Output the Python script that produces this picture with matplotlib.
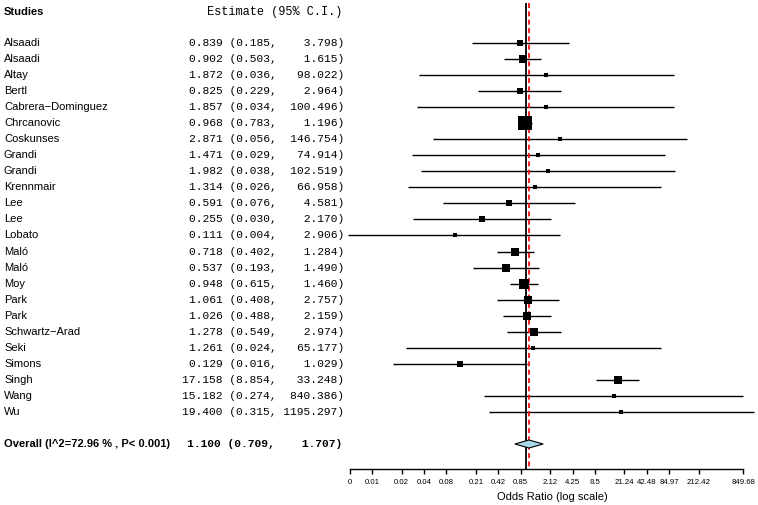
import matplotlib
matplotlib.use("Agg")
import matplotlib.pyplot as plt
from matplotlib.patches import Polygon
from matplotlib.transforms import blended_transform_factory

plt.rcParams['font.family'] = ['Liberation Sans', 'DejaVu Sans']

W, H = 758, 505

studies = ["Alsaadi", "Alsaadi", "Altay", "Bertl", "Cabrera\u2212Dominguez",
           "Chrcanovic", "Coskunses", "Grandi", "Grandi", "Krennmair",
           "Lee", "Lee", "Lobato", "Mal\u00f3", "Mal\u00f3", "Moy", "Park",
           "Park", "Schwartz\u2212Arad", "Seki", "Simons", "Singh", "Wang", "Wu"]
estimates = [0.839, 0.902, 1.872, 0.825, 1.857, 0.968, 2.871, 1.471, 1.982,
             1.314, 0.591, 0.255, 0.111, 0.718, 0.537, 0.948, 1.061, 1.026,
             1.278, 1.261, 0.129, 17.158, 15.182, 19.400]
lower = [0.185, 0.503, 0.036, 0.229, 0.034, 0.783, 0.056, 0.029, 0.038,
         0.026, 0.076, 0.030, 0.004, 0.402, 0.193, 0.615, 0.408, 0.488,
         0.549, 0.024, 0.016, 8.854, 0.274, 0.315]
upper = [3.798, 1.615, 98.022, 2.964, 100.496, 1.196, 146.754, 74.914,
         102.519, 66.958, 4.581, 2.170, 2.906, 1.284, 1.490, 1.460, 2.757,
         2.159, 2.974, 65.177, 1.029, 33.248, 840.386, 1195.297]
# approximate study weights (%)
weights = [3.5, 6.3, 1.6, 3.5, 1.6, 17.8, 1.6, 1.6, 1.6, 1.6, 2.4, 2.4,
           1.6, 7.1, 4.8, 9.8, 4.8, 6.3, 6.3, 1.6, 2.4, 7.1, 1.6, 1.6]

overall_label = "Overall (I^2=72.96 % , P< 0.001)"
overall_est, overall_lo, overall_hi = 1.100, 0.709, 1.707

tick_values = [0.00425, 0.0085, 0.0212, 0.0425, 0.085, 0.212, 0.425, 0.85,
               2.12, 4.25, 8.5, 21.24, 42.48, 84.97, 212.42, 849.68]
tick_labels = ["0", "0.01", "0.02", "0.04", "0.08", "0.21", "0.42", "0.85",
               "2.12", "4.25", "8.5", "21.24", "42.48", "84.97", "212.42",
               "849.68"]

fig = plt.figure(figsize=(W / 100, H / 100), dpi=100)

# forest panel: pixel 340..758 horizontally, 0..469 vertically
ax_left, ax_bottom = 340, 469
ax = fig.add_axes([ax_left / W, (H - ax_bottom) / H,
                   (W - ax_left) / W, ax_bottom / H])
ax.set_xscale('log')
ax.set_xlim(0.003122, 1341)
row_h = 16.04
first_row_px = 43
y_bottom = (ax_bottom - first_row_px) / row_h
ax.set_ylim(y_bottom, -first_row_px / row_h)

for s in ['top', 'right', 'left']:
    ax.spines[s].set_visible(False)
ax.spines['bottom'].set_bounds(tick_values[0], tick_values[-1])
ax.spines['bottom'].set_linewidth(1.0)
ax.set_yticks([])
ax.set_xticks(tick_values)
ax.set_xticklabels(tick_labels, fontsize=5.6)
ax.xaxis.set_minor_locator(matplotlib.ticker.NullLocator())
ax.tick_params(axis='x', length=3.8, width=1.0, pad=3.2)

rows = list(range(len(studies)))
overall_row = len(studies) + 1
top_row = -2.5

ax.vlines(1, top_row, y_bottom, color='black', lw=1.3, zorder=1)
ax.vlines(overall_est, top_row, y_bottom - 0.12, color='red', lw=1.2,
          ls=(0, (3, 2)), zorder=2.5)

for r, est, lo, hi, w in zip(rows, estimates, lower, upper, weights):
    ax.plot([lo, hi], [r, r], color='black', lw=1.0, solid_capstyle='butt', zorder=2)
    side_px = max(4.6, 3.25 * w ** 0.5)
    ax.plot(est, r, marker='s', color='black', ms=side_px * 0.72, mew=0, zorder=3)

dh = 0.25
diamond = Polygon([(overall_lo, overall_row), (overall_est, overall_row - dh),
                   (overall_hi, overall_row), (overall_est, overall_row + dh)],
                  closed=True, facecolor='#a9d9e8', edgecolor='black', lw=0.8, zorder=3)
ax.add_patch(diamond)

# text columns
trans = blended_transform_factory(fig.transFigure, ax.transData)
name_x = 4 / W
est_x = 344 / W

ax.text(name_x, -1.95, "Studies", transform=trans, ha='left', va='center',
        fontsize=8, fontweight='bold', clip_on=False)
ax.text(207 / W, -1.95, "Estimate (95% C.I.)", transform=trans, ha='left',
        va='center', fontsize=8.55, family='Liberation Mono', clip_on=False)

for r, name, est, lo, hi in zip(rows, studies, estimates, lower, upper):
    ax.text(name_x, r, name, transform=trans, ha='left', va='center',
            fontsize=8, clip_on=False)
    ax.text(est_x, r, f"{est:.3f} ({lo:.3f}, {hi:8.3f})", transform=trans,
            ha='right', va='center', fontsize=8.1, family='Liberation Mono',
            clip_on=False)

ax.text(name_x, overall_row, overall_label, transform=trans, ha='left',
        va='center', fontsize=8, fontweight='bold', clip_on=False)
ax.text(342 / W, overall_row,
        f"{overall_est:.3f} ({overall_lo:.3f}, {overall_hi:8.3f})",
        transform=trans, ha='right', va='center', fontsize=8.1,
        family='Liberation Mono', fontweight='bold', clip_on=False)

fig.text(552 / W, 1 - 497 / H, "Odds Ratio (log scale)", ha='center',
         va='center', fontsize=8)

fig.savefig("out.png", dpi=100)
